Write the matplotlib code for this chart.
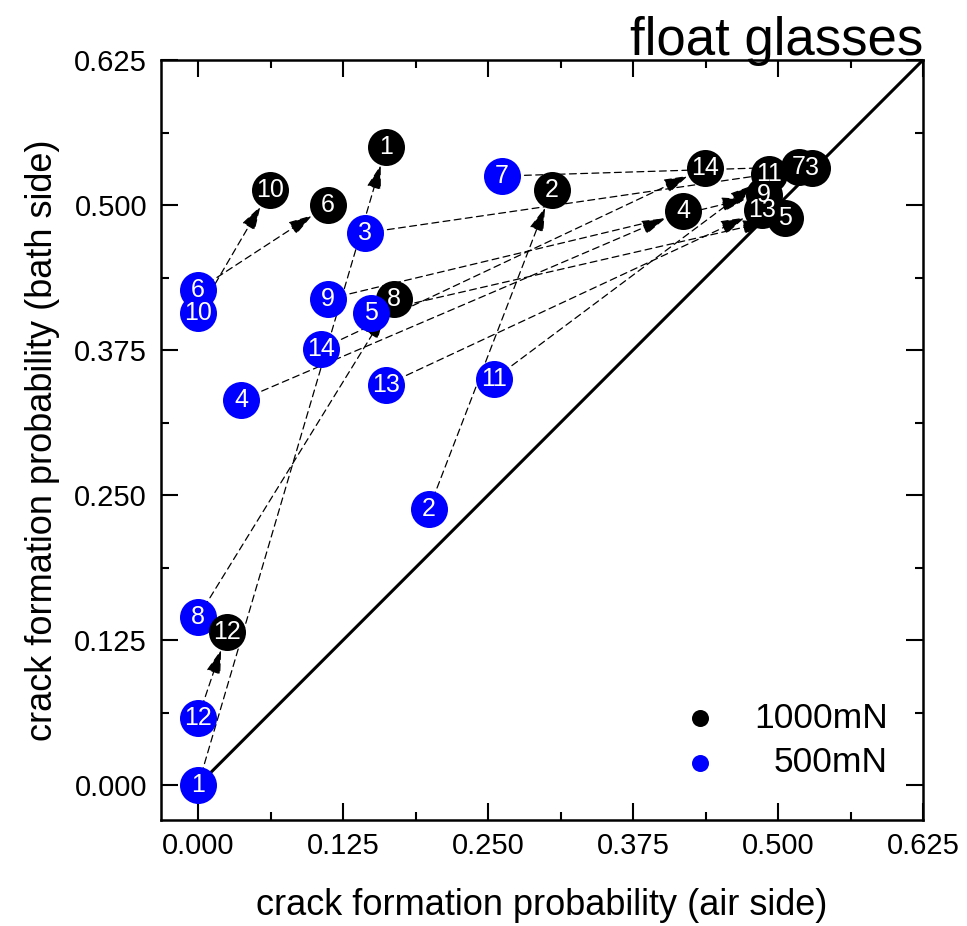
import matplotlib
matplotlib.use("Agg")
import matplotlib.pyplot as plt
from matplotlib.ticker import MultipleLocator, FormatStrFormatter

plt.rcParams["font.family"] = ["Liberation Sans", "DejaVu Sans"]

# Sample numbers of the float glasses
sample_ids = list(range(1, 15))

# Crack formation probability at 1000 mN load (air side / bath side)
air_1000 = [0.162, 0.305, 0.529, 0.418, 0.506, 0.112, 0.518,
            0.169, 0.488, 0.062, 0.492, 0.025, 0.486, 0.437]
bath_1000 = [0.550, 0.513, 0.532, 0.495, 0.489, 0.500, 0.533,
             0.419, 0.509, 0.513, 0.527, 0.132, 0.496, 0.532]

# Crack formation probability at 500 mN load (air side / bath side)
air_500 = [0.000, 0.199, 0.144, 0.037, 0.149, 0.000, 0.262,
           0.000, 0.112, 0.000, 0.255, 0.000, 0.162, 0.106]
bath_500 = [0.000, 0.238, 0.476, 0.332, 0.407, 0.427, 0.525,
            0.145, 0.419, 0.407, 0.350, 0.058, 0.345, 0.376]

series_labels = ["1000mN", "500mN"]
tick_step = 0.125

fig = plt.figure(figsize=(9.67, 9.26), dpi=100)
ax = fig.add_axes([0.1665, 0.1145, 0.788, 0.8207])

# Equal-probability diagonal
ax.plot([0, 0.625], [0, 0.625], color="black", lw=2.2, zorder=1,
        solid_capstyle="butt")

# Dashed arrows from the 500 mN result to the 1000 mN result of each sample
for x0, y0, x1, y1 in zip(air_500, bath_500, air_1000, bath_1000):
    ax.annotate("", xy=(x1, y1), xytext=(x0, y0),
                arrowprops=dict(arrowstyle="-|>,head_length=1.5,head_width=0.45",
                                color="black", lw=0.9, ls=(0, (5.5, 3.5)),
                                shrinkA=0, shrinkB=13.5, mutation_scale=10),
                zorder=2)

marker_s = 710
front_black = {12}
for sid, x, y in zip(sample_ids, air_1000, bath_1000):
    ax.scatter([x], [y], s=marker_s, color="black", linewidths=0,
               zorder=4.5 if sid in front_black else 3)
ax.scatter(air_500, bath_500, s=marker_s, color="#0000ff", linewidths=0, zorder=4)

# Sample numbers inside the markers
for sid, x, y in zip(sample_ids, air_1000, bath_1000):
    ax.text(x, y, str(sid), color="white", ha="center", va="center",
            fontsize=18, zorder=6)
for sid, x, y in zip(sample_ids, air_500, bath_500):
    ax.text(x, y, str(sid), color="white", ha="center", va="center",
            fontsize=18, zorder=6)

# Legend
for ypos, col, lab in zip([0.134, 0.075], ["black", "#0000ff"], series_labels):
    ax.scatter([0.7073], [ypos], s=150, color=col, linewidths=0,
               transform=ax.transAxes, zorder=5, clip_on=False)
    ax.text(0.954, ypos, lab, transform=ax.transAxes, ha="right", va="center",
            fontsize=25.5)

ax.set_xlim(-0.032, 0.625)
ax.set_ylim(-0.030, 0.625)
for axis in (ax.xaxis, ax.yaxis):
    axis.set_major_locator(MultipleLocator(tick_step))
    axis.set_minor_locator(MultipleLocator(tick_step / 2))
    axis.set_major_formatter(FormatStrFormatter("%.3f"))

ax.tick_params(which="both", direction="in", top=True, right=True, width=1.5,
               labelsize=21)
ax.tick_params(which="major", length=12)
ax.tick_params(which="minor", length=6)
ax.tick_params(axis="x", pad=9)
ax.tick_params(axis="y", pad=10)
for sp in ax.spines.values():
    sp.set_linewidth(1.8)

ax.set_xlabel("crack formation probability (air side)", fontsize=26, labelpad=20)
ax.set_ylabel("crack formation probability (bath side)", fontsize=26, labelpad=10)

ax.text(1.0, 1.0066, "float glasses", transform=ax.transAxes, ha="right",
        va="baseline", fontsize=38)

fig.savefig("out.png", dpi=100)
